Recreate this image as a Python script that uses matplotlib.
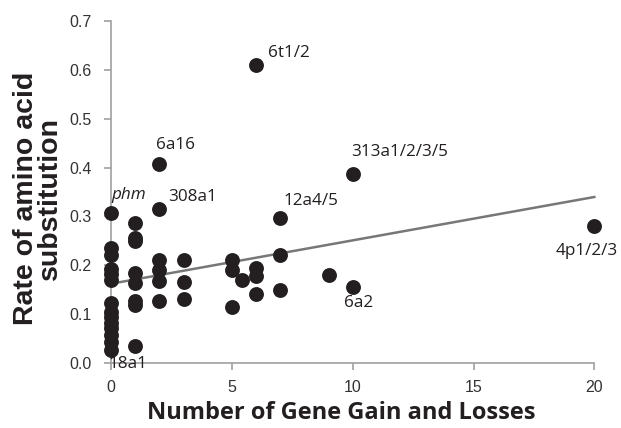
import numpy as np
import matplotlib
matplotlib.use("Agg")
import matplotlib.pyplot as plt

# Data
x0 = [0]*14
y0 = [0.307, 0.235, 0.221, 0.192, 0.182, 0.170, 0.122, 0.105, 0.095, 0.082, 0.072, 0.058, 0.043, 0.027]
x1 = [1]*8
y1 = [0.286, 0.256, 0.249, 0.184, 0.164, 0.126, 0.119, 0.035]
x2 = [2]*6
y2 = [0.407, 0.315, 0.211, 0.191, 0.167, 0.126]
x_rest = [3, 3, 3, 5, 5, 5, 5.4, 6, 6, 6, 6, 7, 7, 7, 9, 10, 10, 20]
y_rest = [0.211, 0.165, 0.131, 0.211, 0.191, 0.115, 0.170, 0.610, 0.194, 0.177, 0.141,
          0.297, 0.221, 0.149, 0.179, 0.386, 0.156, 0.281]

labels = ["phm", "308a1", "6a16", "6t1/2", "313a1/2/3/5", "12a4/5", "6a2", "4p1/2/3", "18a1"]
label_x = [0, 2, 2, 6, 10, 7, 10, 20, 0]
label_y = [0.307, 0.315, 0.407, 0.610, 0.386, 0.297, 0.156, 0.281, 0.027]

x = np.array(x0 + x1 + x2 + x_rest, dtype=float)
y = np.array(y0 + y1 + y2 + y_rest, dtype=float)

fig = plt.figure(figsize=(6.21, 4.28), dpi=100)
ax = fig.add_axes([0.179, 0.152, 0.778, 0.799])

slope, intercept = np.polyfit(x, y, 1)
xl = np.array([0, 20])
ax.plot(xl, intercept + slope * xl, color="#777777", lw=1.8, zorder=2, clip_on=False)

ax.scatter(x, y, s=115, color="#231f20", zorder=3, linewidths=0, clip_on=False)

offsets = [(0, 18), (9, 12), (-3, 19), (12, 12), (-2, 22), (3, 17), (-9, -16), (24, -25), (-3, -14)]
aligns = ["left", "left", "left", "left", "left", "left", "left", "right", "left"]
for lab, lx, ly, off, ha in zip(labels, label_x, label_y, offsets, aligns):
    ax.annotate(lab, (lx, ly), xytext=off, textcoords="offset pixels",
                ha=ha, va="center", fontsize=12.3, family="Open Sans",
                style="italic" if lab == "phm" else "normal", color="#231f20",
                zorder=4, annotation_clip=False)

ax.set_xlim(0, 20)
ax.set_ylim(0, 0.7)
ax.set_xticks([0, 5, 10, 15, 20])
ax.set_yticks(np.arange(0, 0.71, 0.1))
ax.yaxis.set_major_formatter(matplotlib.ticker.FormatStrFormatter("%.1f"))
for s in ["top", "right"]:
    ax.spines[s].set_visible(False)
for s in ["left", "bottom"]:
    ax.spines[s].set_color("#a0a0a0")
    ax.spines[s].set_linewidth(1.2)
ax.tick_params(axis="both", direction="out", length=5, width=1.2, color="#a0a0a0",
               labelsize=11.5, labelcolor="#333333")
ax.tick_params(axis="y", pad=9)
ax.tick_params(axis="x", pad=7)
for t in ax.get_xticklabels() + ax.get_yticklabels():
    t.set_family("Liberation Sans")

ax.set_xlabel("Number of Gene Gain and Losses", fontsize=17, fontweight="bold",
              family="Open Sans", color="#231f20")
ax.xaxis.set_label_coords(0.476, -0.112)
ax.xaxis.label.set_verticalalignment("top")
ax.set_ylabel("Rate of amino acid\nsubstitution", fontsize=20.5, fontweight="bold",
              family="Liberation Sans", color="#231f20", linespacing=0.9)
ax.yaxis.set_label_coords(-0.1, 0.48)

fig.savefig("out.png", dpi=100)
